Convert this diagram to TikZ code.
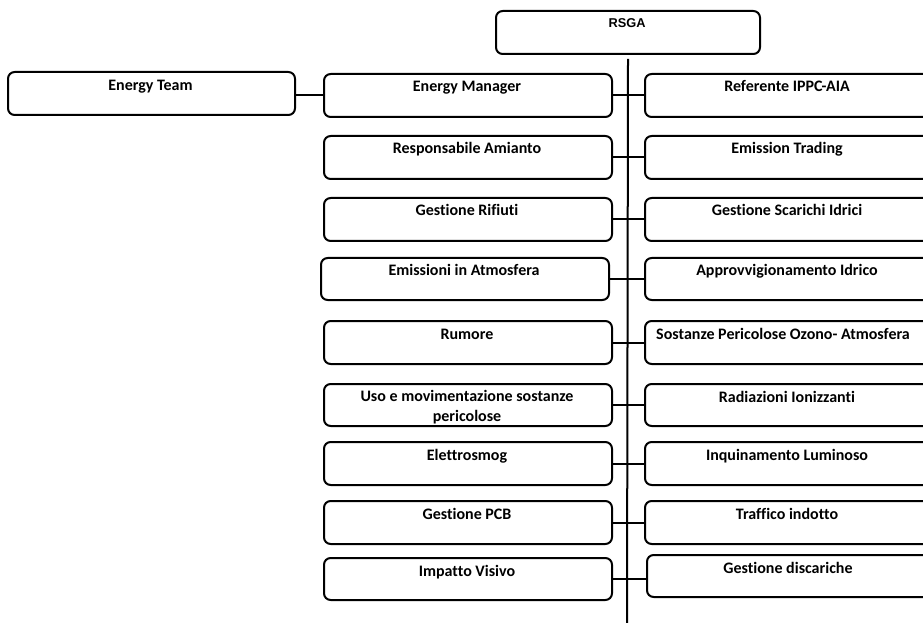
\documentclass[tikz,border=0pt]{standalone}
\usepackage{fontspec}
\setmainfont[Ligatures=NoCommon]{Carlito}
\newfontfamily\arialfont{Liberation Sans}
\newcommand\rbox[5]{\node[box, anchor=north west, minimum width={(#4-#2)*0.75pt}, minimum height={(#5-#3)*0.75pt}] (#1) at (#2,#3) {};}
\begin{document}
\begin{tikzpicture}[x=0.75pt,y=-0.75pt,
  box/.style={draw, line width=1.5pt, rounded corners=5pt, inner sep=0pt},
  lbl/.style={font=\fontsize{12}{14.3}\selectfont\bfseries, anchor=base, inner sep=0pt, align=center},
  link/.style={line width=1.5pt}]
\useasboundingbox (0,0) rectangle (923,623);
\fill[white] (0,0) rectangle (923,623);
\begin{scope}
\clip (0,0) rectangle (923,623);
% top box
\rbox{rsga}{495}{10}{759}{53}
\node[lbl, font=\arialfont\fontsize{9.6}{11}\selectfont\bfseries] (rsgat) at (627,28) {RSGA};
% energy team
\rbox{et}{7}{71}{294}{114}
\node[lbl] (ett) at (150.5,91) {Energy Team};
% left column
\rbox{l1}{323}{73}{611}{116}
\rbox{l2}{323}{135}{611}{178}
\rbox{l3}{323}{197}{611}{240}
\rbox{l4}{320}{257}{608}{299}
\rbox{l5}{323}{320}{611}{363}
\rbox{l6}{323}{383}{611}{425}
\rbox{l7}{323}{441}{611}{484}
\rbox{l8}{323}{500}{611}{543}
\rbox{l9}{323}{557}{611}{599}
% right column
\rbox{r1}{644}{73}{930}{116}
\rbox{r2}{644}{135}{930}{178}
\rbox{r3}{644}{197}{930}{240}
\rbox{r4}{644}{257}{930}{299}
\rbox{r5}{644}{320}{930}{363}
\rbox{r6}{644}{383}{930}{425}
\rbox{r7}{644}{441}{930}{484}
\rbox{r8}{644}{500}{930}{543}
\rbox{r9}{646}{554}{930}{596}
% left labels
\node[lbl] (l1t) at (467,92) {Energy Manager};
\node[lbl] (l2t) at (467,154) {Responsabile Amianto};
\node[lbl] (l3t) at (467,216) {Gestione Rifiuti};
\node[lbl] (l4t) at (464,276) {Emissioni in Atmosfera};
\node[lbl] (l5t) at (467,339) {Rumore};
\node[lbl] (l6t) at (467,421) {Uso e movimentazione sostanze\\pericolose};
\node[lbl] (l7t) at (467,460) {Elettrosmog};
\node[lbl] (l8t) at (467,519) {Gestione PCB};
\node[lbl] (l9t) at (467,576) {Impatto Visivo};
% right labels
\node[lbl] (r1t) at (787,92) {Referente IPPC-AIA};
\node[lbl] (r2t) at (787,154) {Emission Trading};
\node[lbl] (r3t) at (787,216) {Gestione Scarichi Idrici};
\node[lbl] (r4t) at (787,276) {Approvvigionamento Idrico};
\node[lbl] (r5t) at (783,339) {Sostanze Pericolose Ozono- Atmosfera};
\node[lbl] (r6t) at (787,402) {Radiazioni Ionizzanti};
\node[lbl] (r7t) at (787,460) {Inquinamento Luminoso};
\node[lbl] (r8t) at (787,519) {Traffico indotto};
\node[lbl] (r9t) at (788,573) {Gestione discariche};
% connectors
\coordinate (vbot) at (627,623);
\draw[link] ([yshift=-3pt]rsga.south) -- (vbot);
\draw[link] (l1.west -| et.east) -- (l1.west);
\foreach \i in {1,...,9}{
  \draw[link] (l\i.east) -- (r\i.west |- l\i.east);
}
\end{scope}
\end{tikzpicture}
\end{document}
